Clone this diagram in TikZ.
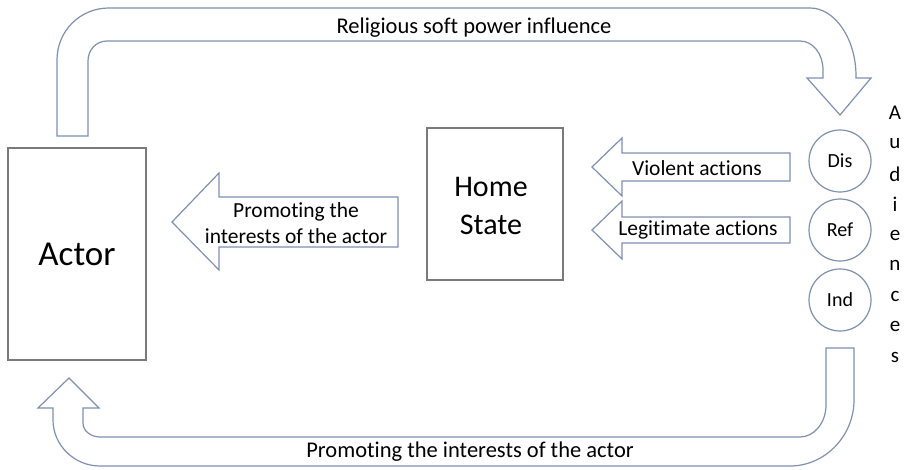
\documentclass[tikz,border=0pt]{standalone}
\usepackage{fontspec}
\setmainfont[Ligatures=NoCommon]{Carlito}
\definecolor{arrowc}{HTML}{8090AE}
\definecolor{boxc}{HTML}{7A7A7A}
\begin{document}
\begin{tikzpicture}[x=1pt,y=-1pt,
  blockarrow/.style={draw=arrowc,line width=1.2pt,fill=white,line join=miter},
  boxnode/.style={draw=boxc,line width=1.3pt,fill=white,inner sep=0pt},
  aud/.style={draw=arrowc,line width=1.2pt,circle,minimum size=62pt,inner sep=0pt,font=\fontsize{20}{22}\selectfont},
  lbl/.style={font=\fontsize{21.5}{26}\selectfont,align=center,inner sep=0pt},
  biglbl/.style={font=\fontsize{22.5}{26}\selectfont,align=center,inner sep=0pt},
  letter/.style={font=\fontsize{21}{22}\selectfont,inner sep=0pt}]
\useasboundingbox (0,0) rectangle (909,470);
\fill[white] (0,0) rectangle (909,470);
% top curved arrow
\draw[blockarrow] (57,136) -- (57,60) .. controls (57,31) and (80,8) .. (109,8)
  -- (810,8) .. controls (835,8) and (856,39) .. (856,76) -- (856,78)
  -- (871,78) -- (840,115) -- (807,78) -- (823,78) -- (823,70)
  .. controls (823,54) and (813,41) .. (800,41) -- (107,41)
  .. controls (96,41) and (88,50) .. (88,61) -- (88,136) -- cycle;
% bottom curved arrow
\draw[blockarrow] (826,348) -- (854,348) -- (854,400)
  .. controls (854,436) and (825,466) .. (790,466) -- (100,466)
  .. controls (74,466) and (53,445) .. (53,420) -- (53,408)
  -- (38,408) -- (69,378) -- (99,408) -- (83,408) -- (83,423)
  .. controls (83,431) and (91,437) .. (100,437) -- (800,437)
  .. controls (814,437) and (826,423) .. (826,405) -- cycle;
% boxes
\node[boxnode,minimum width=138pt,minimum height=212pt,font=\fontsize{35}{40}\selectfont] (actor) at (77,254) {Actor};
\node[boxnode,minimum width=136pt,minimum height=152pt] (home) at (495,204) {};
\node[lbl,font=\fontsize{30}{38}\selectfont] (homet) at (491,206) {Home\\State};
% middle arrows
\draw[blockarrow] (398,197) -- (398,247) -- (219,247) -- (219,270) -- (172,222) -- (219,173) -- (219,197) -- cycle;
\node[lbl] (promo) at (296,223) {Promoting the\\interests of the actor};
\draw[blockarrow] (790,153) -- (790,181) -- (622,181) -- (622,196) -- (592,167) -- (622,138) -- (622,153) -- cycle;
\node[lbl] (viol) at (697,168) {Violent actions};
\draw[blockarrow] (790,217) -- (790,243) -- (622,243) -- (622,259) -- (592,230) -- (622,201) -- (622,217) -- cycle;
\node[lbl] (legit) at (698,230) {Legitimate actions};
% audiences
\node[aud] (dis) at (840,161) {Dis};
\node[aud] (ref) at (840,230) {Ref};
\node[aud] (ind) at (840,300) {Ind};
\foreach \l [count=\i from 0] in {A,u,d,i,e,n,c,e,s}
  \node[letter] (aud\i) at (895,{113+30.5*\i}) {\l};
% labels on curved arrows
\node[biglbl] (rel) at (474,28) {Religious soft power influence};
\node[biglbl] (promob) at (470,452) {Promoting the interests of the actor};
\end{tikzpicture}
\end{document}
